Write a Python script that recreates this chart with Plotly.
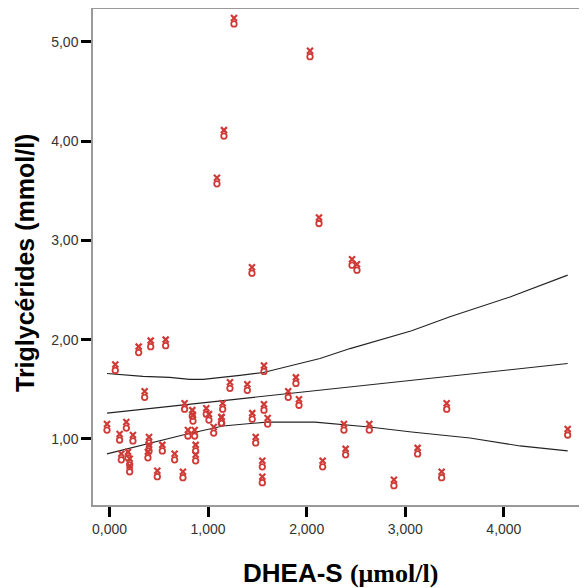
import plotly.graph_objects as go

# Scatter data: DHEA-S (µmol/l) vs Triglycérides (mmol/l)
dhea = [1263, 2034, 1161, 1090, 2125, 1445, 2460, 2510,
        59, 296, 418, 570, 357, -25, 171, 103, 238, 120, 188, 205, 205,
        401, 401, 390, 536, 661, 485, 745, 762, 840, 847, 982, 1009,
        796, 864, 874, 874, 1057, 1134, 1148, 1138,
        1222, 1398, 1567, 1891, 1813, 1922, 1567, 1448, 1604, 1483, 1550, 1550,
        2162, 2378, 2395, 2635, 3420, 3125, 3369, 2885, 4647]
trig = [5.21, 4.88, 4.08, 3.60, 3.20, 2.70, 2.78, 2.73,
        1.72, 1.90, 1.96, 1.97, 1.45, 1.12, 1.14, 1.02, 1.01, 0.82, 0.84, 0.77, 0.70,
        0.99, 0.91, 0.84, 0.91, 0.82, 0.65, 0.64, 1.33, 1.26, 1.21, 1.28, 1.22,
        1.06, 1.06, 0.91, 0.81, 1.09, 1.19, 1.33, 1.19,
        1.54, 1.52, 1.71, 1.59, 1.45, 1.37, 1.32, 1.23, 1.18, 0.99, 0.75, 0.59,
        0.75, 1.12, 0.87, 1.12, 1.33, 0.88, 0.64, 0.56, 1.07]

# Fit line and confidence band
fit_x = [-25, 1000, 2000, 3000, 4000, 4647]
fit_y = [1.26, 1.37, 1.48, 1.58, 1.69, 1.76]
up_x = [-25, 170, 340, 610, 813, 950, 1151, 1323, 1560, 1797, 2135, 2440, 2726, 3065, 3453, 4062, 4647]
up_y = [1.66, 1.64, 1.63, 1.62, 1.60, 1.60, 1.62, 1.64, 1.67, 1.73, 1.81, 1.91, 1.99, 2.09, 2.23, 2.43, 2.65]
lo_x = [-25, 340, 745, 1150, 1594, 2084, 2405, 2635, 3065, 3656, 4163, 4647]
lo_y = [0.85, 0.94, 1.04, 1.13, 1.17, 1.17, 1.14, 1.12, 1.07, 1.01, 0.93, 0.88]

x_ticks = [0, 1000, 2000, 3000, 4000]
x_tick_labels = ["0,000", "1,000", "2,000", "3,000", "4,000"]
y_ticks = [1, 2, 3, 4, 5]
y_tick_labels = ["1,00", "2,00", "3,00", "4,00", "5,00"]

x_title = "<b>DHEA-S </b><b><span style=\"font-family:'Liberation Serif',serif\">(μmol/l)</span></b>"
y_title = "<b>Triglycérides (mmol/l)</b>"

RED = "#cf3a36"

fig = go.Figure()
for xs, ys in [(up_x, up_y), (fit_x, fit_y), (lo_x, lo_y)]:
    fig.add_trace(go.Scatter(x=xs, y=ys, mode="lines",
                             line=dict(color="#222222", width=1.1),
                             hoverinfo="skip", showlegend=False))

# SPSS-like marker: small "x" above a small open circle
fig.add_trace(go.Scatter(
    x=dhea, y=trig, mode="markers",
    marker=dict(symbol="x-thin-open", size=6, angle=180, standoff=3,
                color=RED, line=dict(width=2.2, color=RED)),
    hoverinfo="skip", showlegend=False))
fig.add_trace(go.Scatter(
    x=dhea, y=trig, mode="markers",
    marker=dict(symbol="circle-open", size=5.5, angle=0, standoff=3,
                color=RED, line=dict(width=1.8, color=RED)),
    showlegend=False))

W, H = 579, 580
fig.update_layout(
    width=W, height=H,
    margin=dict(l=85, r=0, t=1, b=83),
    paper_bgcolor="white", plot_bgcolor="white",
    font=dict(family="Liberation Sans, Arial, sans-serif", size=14, color="#333333"),
    xaxis=dict(range=[-167, 4843], tickvals=x_ticks, ticktext=x_tick_labels,
               ticks="outside", ticklen=10, tickwidth=3, tickcolor="black",
               showline=True, linecolor="#9a9a9a", linewidth=1.5, mirror=True,
               showgrid=False, zeroline=False, automargin=False),
    yaxis=dict(range=[0.335, 5.33], tickvals=y_ticks, ticktext=y_tick_labels,
               ticks="outside", ticklen=10, tickwidth=3, tickcolor="black",
               showline=True, linecolor="#9a9a9a", linewidth=1.5,
               showgrid=False, zeroline=False, automargin=False),
    annotations=[
        dict(text=x_title, xref="paper", yref="paper", x=(340 - 93) / 494, y=(505 - 573) / 496,
             xanchor="center", yanchor="middle", showarrow=False,
             font=dict(size=26, color="black")),
        dict(text=y_title, xref="paper", yref="paper", x=(25 - 93) / 494, y=(505 - 263) / 496,
             xanchor="center", yanchor="middle", showarrow=False, textangle=-90,
             font=dict(size=25, color="black")),
    ],
)

fig.write_html("out.html")
